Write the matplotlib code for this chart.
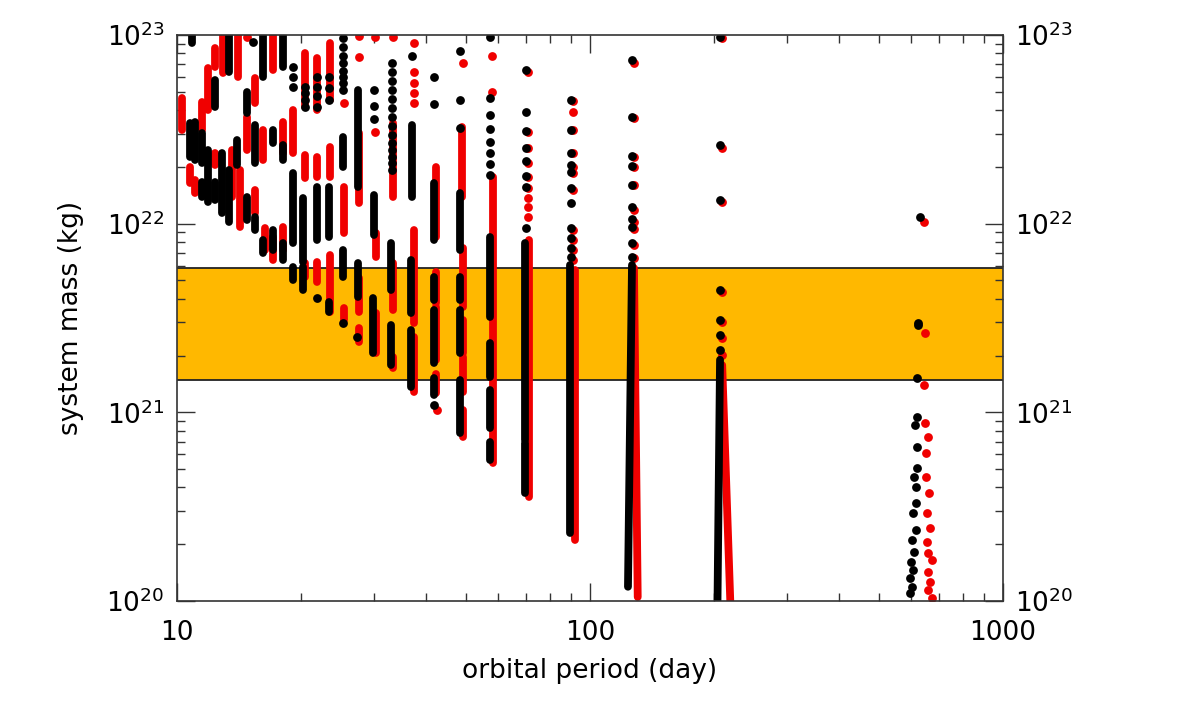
import numpy as np
import matplotlib.pyplot as plt
from matplotlib.ticker import FuncFormatter, LogLocator, NullFormatter

# periods in days, masses in units of 1e21 kg
band_lo = 1.49
band_hi = 5.82

# dense chains of dots: (period, upper mass, lower mass)
blk_chains = [
    (10.87, 100, 90.7),
    (10.75, 34.2, 22.6),
    (11.05, 34.6, 21.8),
    (11.5, 30.3, 21.0), (11.5, 16.6, 13.9),
    (11.9, 24.6, 13.0),
    (12.36, 57.7, 41.5), (12.36, 16.6, 13.4),
    (12.85, 23.7, 11.4),
    (13.4, 100, 63.7), (13.4, 19.3, 10.2),
    (14.0, 27.8, 20.5),
    (14.8, 49.9, 38.6), (14.8, 13.9, 10.5),
    (15.45, 33.3, 21.0), (15.45, 10.9, 9.27),
    (16.15, 100, 59.9), (16.15, 8.2, 7.0),
    (17.1, 31.4, 26.8), (17.1, 9.27, 7.26),
    (18.05, 100, 67.7), (18.05, 26.1, 21.8), (18.05, 7.9, 6.43),
    (19.1, 18.6, 7.9), (19.1, 5.9, 5.04),
    (20.2, 13.7, 6.27), (20.2, 5.9, 4.46),
    (21.8, 15.6, 8.2),
    (23.3, 15.6, 8.5), (23.3, 3.85, 3.4),
    (25.2, 28.8, 20.0), (25.2, 7.26, 5.22),
    (27.4, 51.1, 15.6), (27.4, 6.19, 4.09),
    (30.0, 14.2, 8.71), (29.8, 4.04, 2.07),
    (33.0, 7.9, 4.46), (33.0, 2.91, 1.78),
    (37.1, 33.3, 13.9), (36.9, 6.43, 3.36), (36.9, 2.73, 1.36),
    (41.9, 16.4, 8.2), (41.9, 5.22, 3.94), (41.9, 3.49, 1.83), (41.9, 1.52, 1.24),
    (48.4, 14.6, 7.26), (48.4, 5.22, 3.94), (48.4, 3.49, 2.07), (48.4, 1.49, 0.778),
    (57.3, 8.5, 3.2), (57.3, 2.33, 1.54), (57.3, 1.31, 0.826), (57.3, 0.697, 0.56),
    (69.6, 7.9, 0.714), (69.6, 0.689, 0.374),
    (89.5, 6.04, 0.23),
]
red_chains = [
    (10.28, 46.4, 31.4),
    (10.75, 20.0, 16.4),
    (11.05, 17.1, 14.6),
    (11.5, 44.2, 31.4),
    (11.9, 66.8, 40.1),
    (12.36, 85.3, 67.7), (12.36, 23.7, 20.5),
    (12.9, 100, 62.9),
    (13.6, 24.6, 13.9),
    (14.05, 100, 59.9),
    (14.2, 19.3, 9.6),
    (14.8, 36.7, 24.6),
    (15.45, 59.2, 43.6), (15.45, 15.1, 11.4),
    (16.15, 31.4, 21.8),
    (16.3, 9.49, 7.26),
    (17.1, 100, 65.3), (17.1, 8.5, 6.43),
    (18.05, 34.6, 23.7), (18.05, 9.6, 7.26),
    (19.1, 40.1, 23.7),
    (20.4, 80.3, 41.5), (20.4, 23.1, 17.5), (20.4, 6.19, 5.22),
    (21.8, 75.5, 40.1), (21.8, 22.6, 17.7), (21.8, 6.27, 4.91),
    (23.5, 90.7, 45.2), (23.5, 25.5, 17.7), (23.5, 6.83, 3.4),
    (25.4, 15.6, 8.93), (25.4, 3.57, 3.09),
    (27.6, 30.3, 12.9), (27.6, 5.16, 3.4), (27.6, 2.8, 2.36),
    (30.3, 8.93, 6.66), (30.3, 3.36, 2.07),
    (33.3, 34.2, 13.9), (33.3, 6.19, 3.49), (33.3, 1.97, 1.72),
    (37.5, 9.27, 2.98), (37.5, 2.51, 1.28),
    (42.4, 20.0, 8.5), (42.4, 5.55, 3.8), (42.4, 3.62, 1.9), (42.4, 1.6, 1.26),
    (49.0, 32.5, 13.9), (49.3, 7.43, 3.62), (49.3, 3.09, 2.07), (49.3, 1.97, 1.28),
    (49.3, 1.03, 0.741),
    (58.2, 17.7, 0.54),
    (71.1, 8.2, 0.356),
    (92.0, 5.69, 0.211),
]

# long chains that drift in period: (period top, mass top, period bottom, mass bottom)
blk_fans = [(126.4, 6.04, 123.6, 0.119), (206.5, 1.9, 203.5, 0.09)]
red_fans = [(127.8, 5.82, 130.5, 0.105), (209.0, 1.78, 219.0, 0.09)]

# separate dots: (period, [masses])
blk_dots = [
    (15.3, [91.8]),
    (19.1, [67.7, 59.9, 53.0]),
    (20.4, [53.0, 49.3, 45.2, 41.5]),
    (21.8, [59.9, 53.0, 47.4, 41.5, 4.04]),
    (23.3, [59.9, 52.4, 45.2]),
    (25.2, [96.4, 86.9, 77.4, 71.1, 64.4, 59.9, 55.7, 51.1, 2.98]),
    (27.3, [2.51]),
    (30.0, [51.1, 42.1, 35.9]),
    (33.2, [71.1, 63.7, 57.1, 51.1, 45.8, 41.0, 36.7, 33.0, 29.5, 26.8, 24.6, 22.6, 21.0, 19.3]),
    (37.1, [77.4]),
    (41.9, [59.9, 43.1, 1.09]),
    (48.4, [82.3, 45.2, 32.1]),
    (57.3, [97.6, 46.4, 37.7, 31.8, 27.1, 23.7, 20.7, 18.1]),
    (70.0, [65.3, 39.1, 31.0, 25.2, 21.5, 17.9, 15.6, 9.49]),
    (89.9, [45.2, 31.4, 23.7, 20.5, 18.8, 15.5, 12.9, 9.49, 8.4, 7.43, 6.66]),
    (126.4, [73.7, 36.7, 22.9, 20.2, 16.0, 12.3, 10.6, 9.6, 7.9, 6.66]),
    (206.5, [97.6, 26.1, 13.4, 4.46, 3.09, 2.57, 2.14]),
]
red_dots = [
    (14.8, [98.0]),
    (25.4, [43.6]),
    (27.6, [99.0, 76.5]),
    (30.2, [97.6, 30.6]),
    (33.3, [97.6]),
    (37.5, [90.7, 63.7, 55.7, 49.3, 43.6]),
    (42.6, [1.03]),
    (49.3, [71.1]),
    (57.9, [77.4, 49.9]),
    (70.8, [63.7, 30.6, 25.2, 21.0, 17.7, 15.5, 13.7, 12.3, 10.9]),
    (91.0, [44.7, 39.1, 31.4, 23.7, 20.0, 18.6, 15.1, 9.27, 8.2, 7.26, 6.43]),
    (128.0, [71.1, 36.3, 22.6, 20.0, 16.0, 11.8, 10.2, 9.38, 7.71, 6.58]),
    (209.0, [96.4, 25.2, 13.0, 4.35, 3.01, 2.48, 2.01]),
]

# the ~620 day column
blk_far_p = [629.6, 622.6, 621.0, 619.1, 619.1, 612.3, 619.1, 619.1, 608.9, 615.6,
             615.6, 605.6, 615.6, 602.2, 608.9, 598.9, 605.6, 595.6, 602.2, 595.6]
blk_far_m = [10.9, 2.91, 2.96, 1.52, 0.946, 0.857, 0.656, 0.507, 0.455, 0.403,
             0.331, 0.293, 0.238, 0.211, 0.182, 0.161, 0.146, 0.132, 0.119, 0.110]
red_far_p = [643.9, 647.5, 643.9, 647.5, 658.4, 651.0, 651.0, 662.0, 654.8,
             665.7, 654.8, 658.4, 673.2, 658.4, 665.7, 658.4, 673.2]
red_far_m = [10.2, 2.64, 1.40, 0.879, 0.741, 0.61, 0.455, 0.374, 0.293,
             0.244, 0.206, 0.18, 0.165, 0.143, 0.126, 0.115, 0.104]

UNIT = 1e21
RED = '#f00000'
DOT_S = 40
LW = 5.6

plt.rcParams['font.family'] = 'DejaVu Sans'
plt.rcParams['mathtext.default'] = 'regular'

fig = plt.figure(figsize=(11.79, 7.09), dpi=100)
ax = fig.add_axes([0.1501, 0.1523, 0.7006, 0.7983])
ax.set_xscale('log')
ax.set_yscale('log')
ax.set_xlim(10, 1000)
ax.set_ylim(1e20, 1e23)

# orange band
ax.axhspan(band_lo * UNIT, band_hi * UNIT, facecolor='#ffb800', edgecolor='none', zorder=1)
for v in (band_lo, band_hi):
    ax.axhline(v * UNIT, color='#222222', lw=1.3, zorder=1.5)


def draw(chains, fans, dots, far_p, far_m, col, z):
    for p, hi, lo in chains:
        ax.plot([p, p], [hi * UNIT, lo * UNIT], color=col, lw=LW,
                solid_capstyle='round', zorder=z)
    for p1, m1, p2, m2 in fans:
        ax.plot([p1, p2], [m1 * UNIT, m2 * UNIT], color=col, lw=LW,
                solid_capstyle='round', zorder=z)
    for p, ms in dots:
        ax.scatter([p] * len(ms), np.array(ms) * UNIT, s=DOT_S, color=col,
                   linewidths=0, zorder=z)
    ax.scatter(far_p, np.array(far_m) * UNIT, s=DOT_S, color=col,
               linewidths=0, zorder=z)


draw(red_chains, red_fans, red_dots, red_far_p, red_far_m, RED, 2)
draw(blk_chains, blk_fans, blk_dots, blk_far_p, blk_far_m, 'black', 3)

# axes styling
for s in ax.spines.values():
    s.set_color('#333333')
    s.set_linewidth(1.2)
    s.set_zorder(5)

ax.xaxis.set_major_locator(LogLocator(base=10, numticks=5))
ax.xaxis.set_minor_locator(LogLocator(base=10, subs=np.arange(2, 10), numticks=20))
ax.xaxis.set_major_formatter(FuncFormatter(lambda v, pos: '%d' % round(v)))
ax.xaxis.set_minor_formatter(NullFormatter())
ax.yaxis.set_major_locator(LogLocator(base=10, numticks=6))
ax.yaxis.set_minor_locator(LogLocator(base=10, subs=np.arange(2, 10), numticks=20))
ax.yaxis.set_major_formatter(FuncFormatter(lambda v, pos: r'$10^{%d}$' % round(np.log10(v))))
ax.yaxis.set_minor_formatter(NullFormatter())

ax.tick_params(which='both', direction='in', top=True, right=True,
               labelright=True, color='#333333', labelsize=19, zorder=6)
ax.tick_params(which='major', length=13, width=1.0, pad=9)
ax.tick_params(which='minor', length=6, width=1.0)
ax.tick_params(axis='x', which='major', pad=14)

ax.set_xlabel('orbital period (day)', fontsize=19, labelpad=8)
ax.set_ylabel('system mass (kg)', fontsize=19, labelpad=16)

fig.savefig('out.png', dpi=100)
